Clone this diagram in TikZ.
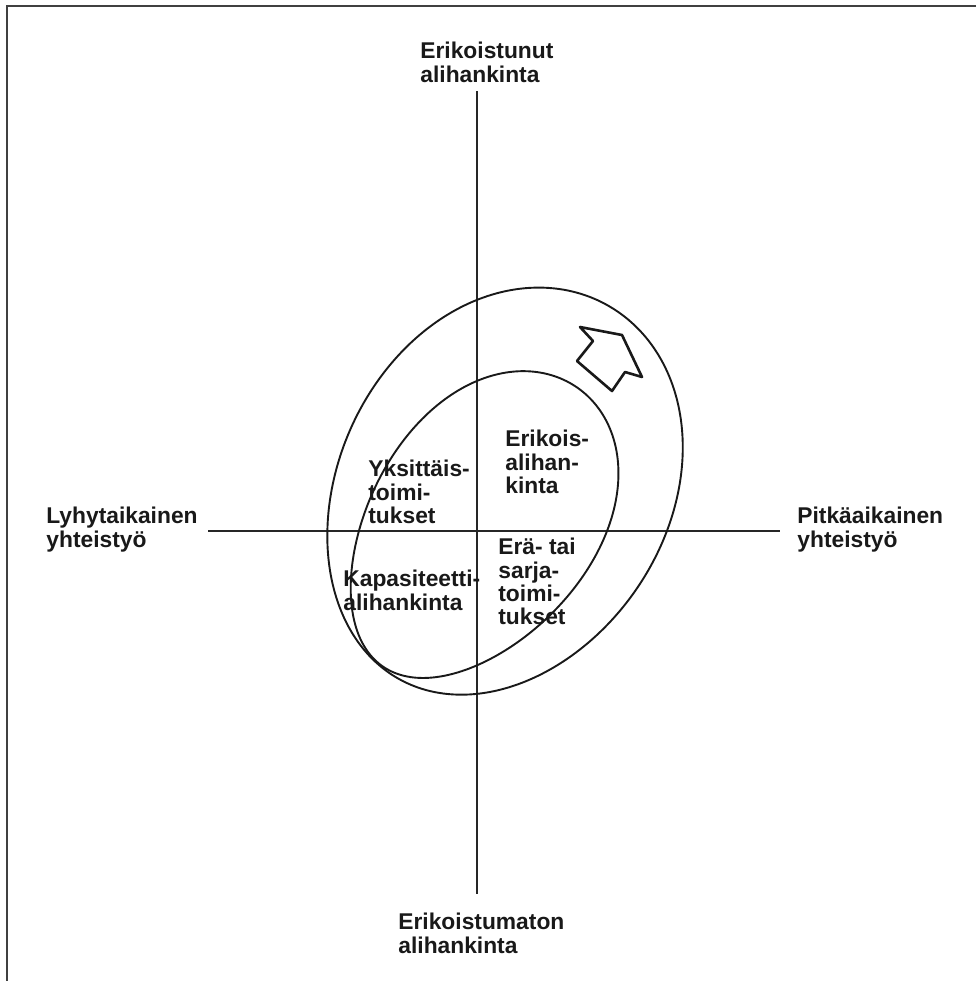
\documentclass[tikz,border=0pt]{standalone}
\usepackage{fontspec}
\setmainfont{Liberation Sans}
\usetikzlibrary{positioning}

\begin{document}
\begin{tikzpicture}[
    x=0.5pt, y=-0.5pt,
    txt/.style={inner sep=0pt, anchor=north west, align=left, text=black!90, font=\fontsize{11.4}{11.6}\selectfont\bfseries},
    axis/.style={line width=0.7pt, black!85},
    curve/.style={line width=0.95pt, black!90},
    bigarrow/.style={line width=1.3pt, line join=round, black!90}
]
\useasboundingbox (0,0) rectangle (976,981);

% frame
\draw[line width=1.2pt, black!75] (976,6) -- (7,6) -- (7,981);

% axis labels
\node[txt] (special) at (420,42) {Erikoistunut\\alihankinta};
\node[txt] (plain) at (398,913) {Erikoistumaton\\alihankinta};
\node[txt] (short) at (46,507) {Lyhytaikainen\\yhteistyö};
\node[txt] (long) at (797,507) {Pitkäaikainen\\yhteistyö};

% axes
\coordinate (vtop) at (477,91);
\coordinate (vbot) at (477,894);
\coordinate (hleft) at (208,531);
\coordinate (hright) at (780,531);
\draw[axis] (vtop) -- (vbot);
\draw[axis] (hleft) -- (hright);

% outer and inner field (egg shapes)
\draw[curve, shift={(503,492)}, rotate=61]
    plot[domain=0:360, samples=120, smooth] ({214*cos(\x)}, {165*sin(\x)*(1+0.03*cos(\x))}) -- cycle;
\draw[curve, shift={(480,527)}, rotate=55]
    plot[domain=0:360, samples=120, smooth] ({170*cos(\x)}, {112*sin(\x)*(1+0.1*cos(\x))}) -- cycle;

% quadrant texts
\node[txt] (single) at (368,460) {Yksittäis-\\toimi-\\tukset};
\node[txt] (expert) at (505,430) {Erikois-\\alihan-\\kinta};
\node[txt] (capacity) at (343,570) {Kapasiteetti-\\alihankinta};
\node[txt] (series) at (498,538) {Erä- tai\\sarja-\\toimi-\\tukset};

% direction arrow
\draw[bigarrow] (580,327) -- (622,335) -- (642,377) -- (625,372)
    -- (612,391) -- (577,361) -- (593,341) -- cycle;

\end{tikzpicture}
\end{document}
